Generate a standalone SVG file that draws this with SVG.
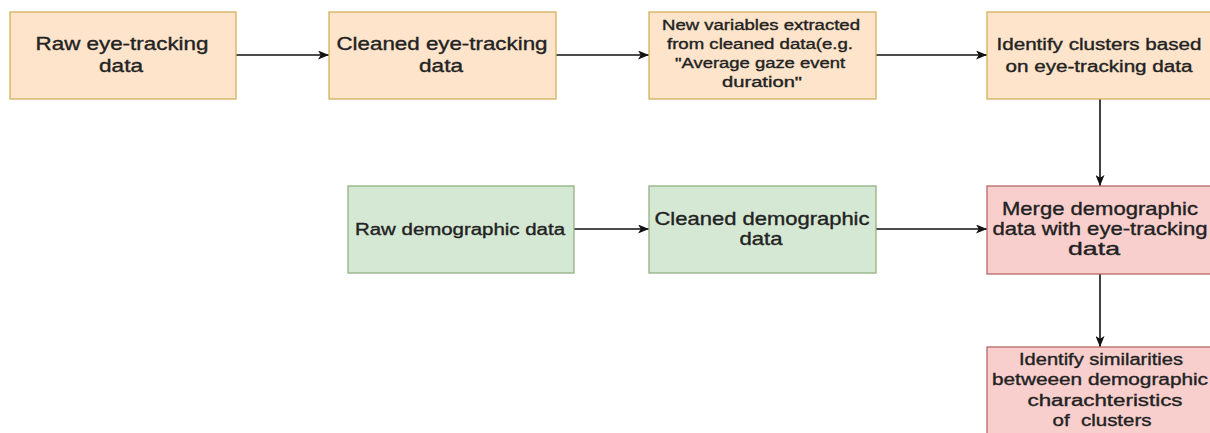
<svg xmlns="http://www.w3.org/2000/svg" width="1210" height="433" viewBox="0 0 1210 433">
  <style>
    .orange { fill: #fde4ca; stroke: #d4b05a; stroke-width: 1.3; }
    .green { fill: #d5e8d4; stroke: #93b083; stroke-width: 1.3; }
    .red { fill: #f8cfcd; stroke: #b46a66; stroke-width: 1.3; }
    text { font-family: "Liberation Sans", Arial, sans-serif; fill: #222; stroke: #222; stroke-width: 0.35; text-anchor: middle; }
    .l { font-size: 18.5px; }
    .m { font-size: 16px; }
    .s { font-size: 14px; }
    .edge { fill: none; stroke: #111; stroke-width: 1.6; }
  </style>
  <defs>
    <marker id="arrow" viewBox="0 0 11 9" refX="11" refY="4.5" markerWidth="11" markerHeight="9" markerUnits="userSpaceOnUse" orient="auto">
      <path d="M0,0 L11,4.5 L0,9 L2.8,4.5 Z" fill="#111"/>
    </marker>
  </defs>
  <rect width="1210" height="433" fill="#ffffff"/>

  <g id="connectors">
    <path class="edge" d="M236,55 H329" marker-end="url(#arrow)"/>
    <path class="edge" d="M556,55 H649" marker-end="url(#arrow)"/>
    <path class="edge" d="M876,55 H987" marker-end="url(#arrow)"/>
    <path class="edge" d="M1100,99 V186" marker-end="url(#arrow)"/>
    <path class="edge" d="M574,229 H649" marker-end="url(#arrow)"/>
    <path class="edge" d="M876,229 H987" marker-end="url(#arrow)"/>
    <path class="edge" d="M1100,274 V347" marker-end="url(#arrow)"/>
  </g>

  <g id="raw-eye-tracking">
    <rect class="orange" x="10" y="12" width="226" height="87"/>
    <text class="l" x="122" y="50" textLength="173" lengthAdjust="spacingAndGlyphs">Raw eye-tracking</text>
    <text class="l" x="121" y="72" textLength="44" lengthAdjust="spacingAndGlyphs">data</text>
  </g>

  <g id="cleaned-eye-tracking">
    <rect class="orange" x="329" y="12" width="227" height="87"/>
    <text class="l" x="442" y="50" textLength="211" lengthAdjust="spacingAndGlyphs">Cleaned eye-tracking</text>
    <text class="l" x="441" y="72" textLength="44" lengthAdjust="spacingAndGlyphs">data</text>
  </g>

  <g id="new-variables">
    <rect class="orange" x="649" y="12" width="227" height="87"/>
    <text class="s" x="761" y="30" textLength="198" lengthAdjust="spacingAndGlyphs">New variables extracted</text>
    <text class="s" x="760" y="49" textLength="186" lengthAdjust="spacingAndGlyphs">from cleaned data(e.g.</text>
    <text class="s" x="760" y="68" textLength="170" lengthAdjust="spacingAndGlyphs">"Average gaze event</text>
    <text class="s" x="762" y="87" textLength="80" lengthAdjust="spacingAndGlyphs">duration"</text>
  </g>

  <g id="identify-clusters">
    <rect class="orange" x="987" y="12" width="226" height="87"/>
    <text class="m" x="1099" y="50" textLength="205" lengthAdjust="spacingAndGlyphs">Identify clusters based</text>
    <text class="m" x="1099" y="72" textLength="187" lengthAdjust="spacingAndGlyphs">on eye-tracking data</text>
  </g>

  <g id="raw-demographic">
    <rect class="green" x="348" y="186" width="226" height="87"/>
    <text class="m" x="460" y="235" textLength="210" lengthAdjust="spacingAndGlyphs">Raw demographic data</text>
  </g>

  <g id="cleaned-demographic">
    <rect class="green" x="649" y="186" width="227" height="87"/>
    <text class="l" x="762" y="225" textLength="215" lengthAdjust="spacingAndGlyphs">Cleaned demographic</text>
    <text class="l" x="761" y="245" textLength="43" lengthAdjust="spacingAndGlyphs">data</text>
  </g>

  <g id="merge">
    <rect class="red" x="987" y="186" width="226" height="88"/>
    <text class="l" x="1100" y="215" textLength="196" lengthAdjust="spacingAndGlyphs">Merge demographic</text>
    <text class="l" x="1100" y="235" textLength="215" lengthAdjust="spacingAndGlyphs">data with eye-tracking</text>
    <text class="l" x="1094" y="255" textLength="52" lengthAdjust="spacingAndGlyphs">data</text>
  </g>

  <g id="identify-similarities">
    <rect class="red" x="987" y="347" width="226" height="95"/>
    <text class="m" x="1101" y="365" textLength="164" lengthAdjust="spacingAndGlyphs">Identify similarities</text>
    <text class="m" x="1100" y="385" textLength="216" lengthAdjust="spacingAndGlyphs">betweeen demographic</text>
    <text class="m" x="1105" y="406" textLength="155" lengthAdjust="spacingAndGlyphs">charachteristics</text>
    <text class="m" x="1102" y="426" textLength="99" lengthAdjust="spacingAndGlyphs" xml:space="preserve">of  clusters</text>
  </g>
</svg>
